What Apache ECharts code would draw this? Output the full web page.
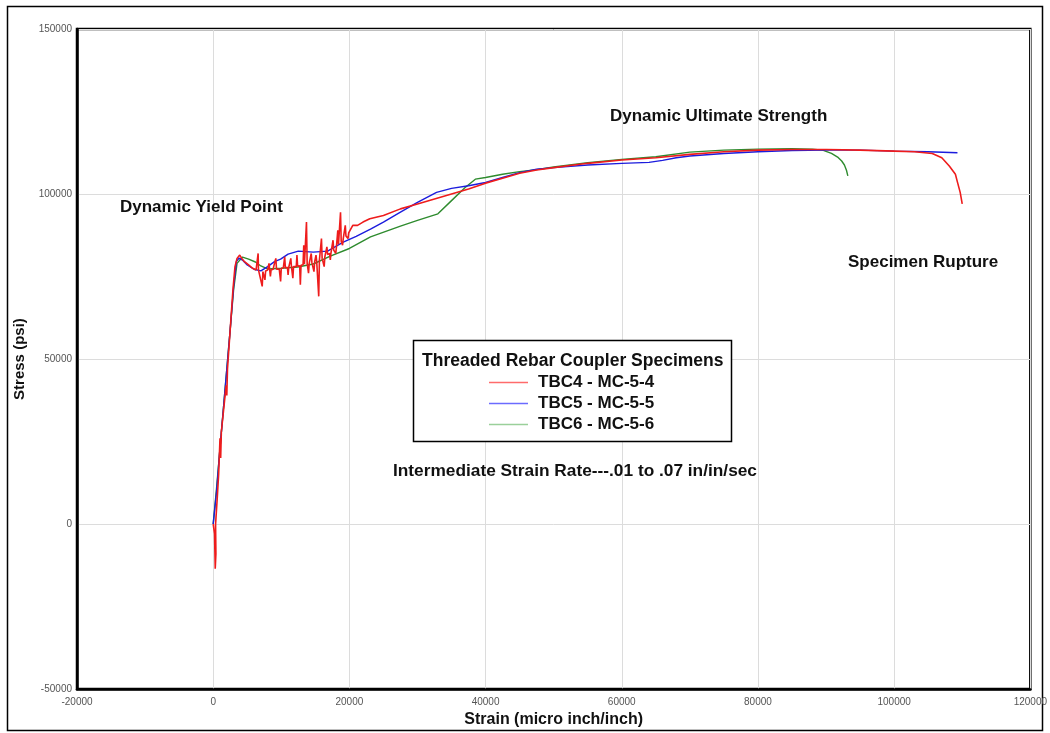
<!DOCTYPE html>
<html>
<head>
<meta charset="utf-8">
<script src="https://cdn.jsdelivr.net/npm/echarts@6/dist/echarts.min.js"></script>
<style>
html,body{margin:0;padding:0;background:#fff;}
#chart{width:1050px;height:733px;}
</style>
</head>
<body>
<div id="chart"></div>
<script>
// ---- data (strain in micro inch/inch, stress in psi) ----
const seriesNames = ['TBC4 - MC-5-4', 'TBC5 - MC-5-5', 'TBC6 - MC-5-6'];

const tbc4Strain = [0,200,300,400,350,600,800,1000,1100,1200,1400,1700,1900,2000,2100,2300,2600,2900,3200,3500,3900,4200,4600,5200,5800,6300,
 6550,6600,6650,6900,7200,7300,7500,7600,7700,8000,8200,8400,8500,8800,9000,9200,9300,9700,9900,10000,10300,10500,10600,10900,11000,11100,11300,11400,11500,11650,11700,11800,12200,12300,12400,12700,12800,12900,13200,13300,13400,13600,13700,13800,13950,14000,14100,14300,14400,14500,14700,14800,14900,15000,15100,15200,15400,15500,15600,15800,15900,16000,16200,16300,16400,16600,16700,16800,17100,17200,17300,17500,17600,17700,17900,18000,18100,18200,18300,18400,18600,18700,18800,18900,19000,19100,19300,19400,19500,19700,19800,19900,20100,
 20500,21200,22000,23000,25000,27500,30000,32500,35000,37500,40000,42500,45000,47500,50000,55000,60000,65000,70000,75000,80000,85000,90000,95000,100000,103000,105600,107000,108100,109000,109300,109700,110000];
const tbc4Stress = [0,-3000,-13500,-9000,0,8000,15000,26000,20000,28000,32000,38000,42000,39000,47000,53000,62000,71000,78000,80500,81500,80500,79500,78500,77500,77000,
 77200,82000,77000,76500,72000,76500,76500,74000,76700,77000,79000,75000,77000,77200,79000,80500,77200,77300,73500,77500,77600,81000,77600,77800,75500,77800,77900,80500,77900,78000,74500,78000,78000,81500,78100,78300,72500,78400,78600,84500,78700,78800,91500,79000,79000,76000,79000,79100,82000,79200,79300,76500,79400,79500,81500,79600,79800,69000,80000,80300,86500,80500,80700,78000,81000,81500,84000,81700,82000,80000,82200,82700,86000,83000,83500,82000,84000,84300,89000,84700,85200,94500,85700,86000,84500,86500,87000,90500,87300,87800,86500,88200,88600,
 90500,90500,91500,92500,93500,95500,97000,98500,100000,101500,103300,104800,106300,107300,108000,109300,110300,111000,112000,112800,113300,113500,113500,113300,113000,112800,112300,111000,108500,106000,103600,100500,97000];

const tbc5Strain = [0,500,1000,1500,2000,2500,3000,3400,3800,4300,5000,6000,7000,8000,9000,9900,11000,12500,14700,16800,19100,21000,23100,25000,27500,30000,32800,35000,37500,40000,42500,45000,47500,50000,55000,60000,64000,66000,68000,70000,75000,80000,85000,90000,95000,100000,105000,109300];
const tbc5Stress = [0,10000,23000,35000,47000,59000,72000,79500,80600,80000,78500,77200,76700,78000,79500,80300,81800,82700,82400,82700,85400,87200,89400,91500,94500,97500,100500,101700,102500,103500,105000,106500,107500,108000,108800,109300,109600,110200,111000,111500,112300,112800,113200,113300,113300,113000,112800,112500];

const tbc6Strain = [0,500,1000,1500,2000,2500,3000,3500,4300,5200,6200,7000,8000,10000,12400,14700,17200,20000,23100,27500,30000,33000,35000,37000,38500,40000,42500,45000,47500,50000,55000,60000,65000,70000,75000,80000,85000,88000,89500,90800,91700,92300,92700,93000,93200];
const tbc6Stress = [0,11000,23000,35000,47000,59000,71000,79000,80900,80300,79400,78200,77300,77500,77900,78800,81200,83500,87000,90300,92000,94000,98000,102000,104500,105000,106000,106800,107400,108200,109500,110500,111300,112700,113300,113600,113700,113600,113300,112300,111200,110000,108800,107200,105500];

const xTicks = [-20000, 0, 20000, 40000, 60000, 80000, 100000, 120000];
const yTicks = [-50000, 0, 50000, 100000, 150000];

const lineColors = ['#ee1c1c', '#1c1cdd', '#2e8b2e'];
const legendColors = ['#ff6b6b', '#6b6bff', '#9ad09a'];

function pairs(xs, ys){ return xs.map((x,i)=>[x, ys[i]]); }
const allData = [pairs(tbc4Strain,tbc4Stress), pairs(tbc5Strain,tbc5Stress), pairs(tbc6Strain,tbc6Stress)];

const FONT = '"Liberation Sans", Arial, sans-serif';
const chart = echarts.init(document.getElementById('chart'), null, {renderer:'canvas'});

function txt(t, x, y, size){
  return {type:'text', z:100, x:x, y:y,
    style:{text:t, font:'bold '+size+'px '+FONT, fill:'#111', textAlign:'left', textVerticalAlign:'middle'}};
}

const option = {
  backgroundColor:'#fff',
  animation:false,
  grid:{left:77, right:19, top:29, bottom:43, show:true, borderColor:'#000', borderWidth:2.5},
  xAxis:{type:'value', min:xTicks[0], max:xTicks[xTicks.length-1], interval:xTicks[1]-xTicks[0],
    name:'Strain (micro inch/inch)', nameLocation:'middle', nameGap:21,
    nameTextStyle:{fontFamily:FONT, fontWeight:'bold', fontSize:16, color:'#111'},
    axisLine:{onZero:false, lineStyle:{color:'#000', width:2.5}},
    axisTick:{show:false},
    axisLabel:{fontFamily:FONT, fontSize:10, color:'#555', margin:8, formatter:v=>String(v)},
    splitLine:{show:true, lineStyle:{color:'#dcdcdc', width:1}}},
  yAxis:{type:'value', min:yTicks[0], max:yTicks[yTicks.length-1], interval:yTicks[1]-yTicks[0],
    name:'Stress (psi)', nameLocation:'middle', nameGap:50, nameRotate:90,
    nameTextStyle:{fontFamily:FONT, fontWeight:'bold', fontSize:15, color:'#111'},
    axisLine:{onZero:false, lineStyle:{color:'#000', width:2.5}},
    axisTick:{show:false},
    axisLabel:{fontFamily:FONT, fontSize:10, color:'#555', margin:5, formatter:v=>String(v)},
    splitLine:{show:true, lineStyle:{color:'#dcdcdc', width:1}}},
  legend:{orient:'vertical', left:484, top:369, itemWidth:39, itemHeight:12, itemGap:4, z:120,
    data: seriesNames.map((n,i)=>({name:n, icon:'path://M0,5 L40,5 L40,6.3 L0,6.3 Z', itemStyle:{color:legendColors[i]}})),
    textStyle:{fontFamily:FONT, fontWeight:'bold', fontSize:17, color:'#111', padding:[0,0,0,5]}},
  graphic:[
    {type:'rect', z:-10, shape:{x:7.5, y:6.5, width:1035, height:724}, style:{fill:'none', stroke:'#000', lineWidth:1.5}},
    {type:'rect', z:5, shape:{x:413.5, y:340.5, width:318, height:101}, style:{fill:'#fff', stroke:'#000', lineWidth:1.5}},
    txt('Threaded Rebar Coupler Specimens', 422, 361, 17.5),
    txt('Dynamic Yield Point', 120, 207, 17),
    txt('Dynamic Ultimate Strength', 610, 116, 17),
    txt('Specimen Rupture', 848, 262, 17),
    txt('Intermediate Strain Rate---.01 to .07 in/in/sec', 393, 471, 17.3)
  ],
  series: seriesNames.map((n,i)=>({
    name:n, type:'line', data:allData[i], symbol:'none', smooth:false,
    lineStyle:{color:lineColors[i], width:i===0?1.6:1.4}, itemStyle:{color:lineColors[i]},
    z: 3-i
  }))
};
chart.setOption(option);
</script>
</body>
</html>
